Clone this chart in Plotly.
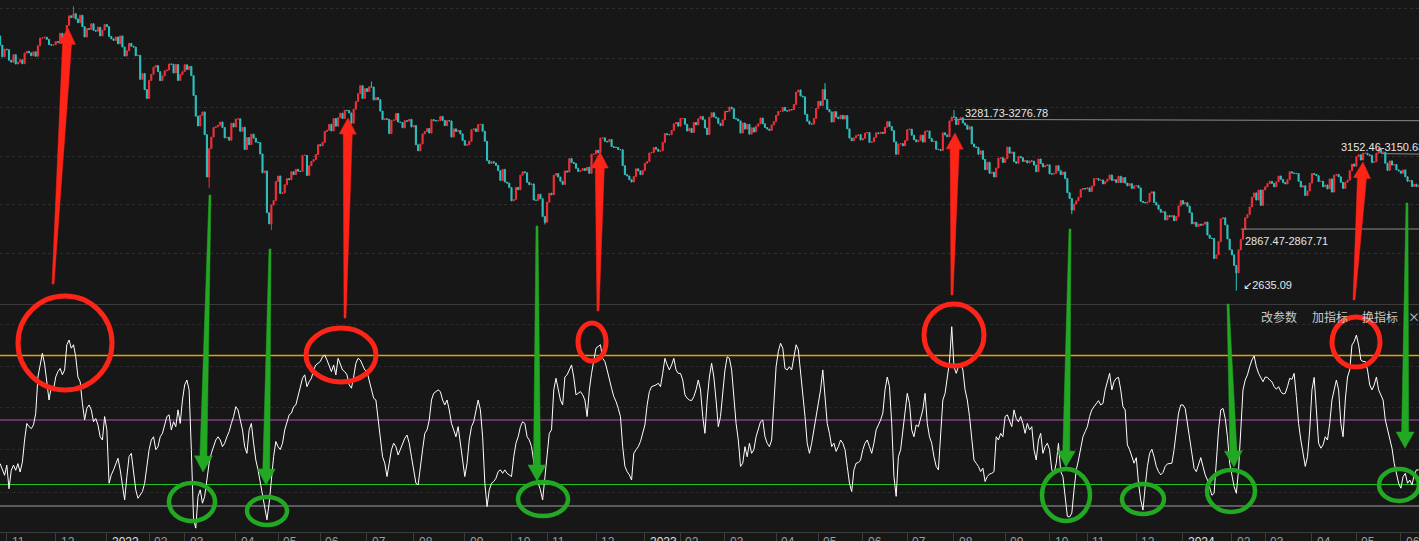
import pandas as pd
import plotly.graph_objects as go

# ---------------- data ----------------
start_date = "2021-10-27"
end_date = "2024-06-14"
exchange_holidays = [
    "2022-01-03", "2022-01-31", "2022-02-01", "2022-02-02", "2022-02-03", "2022-02-04",
    "2022-04-04", "2022-04-05", "2022-05-02", "2022-05-03", "2022-05-04", "2022-06-03",
    "2022-09-12", "2022-10-03", "2022-10-04", "2022-10-05", "2022-10-06", "2022-10-07",
    "2023-01-02", "2023-01-23", "2023-01-24", "2023-01-25", "2023-01-26", "2023-01-27",
    "2023-04-05", "2023-05-01", "2023-05-02", "2023-05-03", "2023-06-22", "2023-06-23",
    "2023-09-29", "2023-10-02", "2023-10-03", "2023-10-04", "2023-10-05", "2023-10-06",
    "2024-01-01", "2024-02-09", "2024-02-12", "2024-02-13", "2024-02-14", "2024-02-15",
    "2024-02-16", "2024-04-04", "2024-04-05", "2024-05-01", "2024-05-02", "2024-05-03",
    "2024-06-10",
]

prev_close = 3597
closes_2021 = [
    3562, 3518, 3547,
    3545, 3505, 3498, 3526, 3491, 3498, 3507, 3492, 3532, 3539, 3533, 3522, 3537, 3520, 3560, 3589, 3589, 3592, 3584, 3564, 3562, 3564,
    3576, 3573, 3607, 3589, 3595, 3637, 3673, 3666, 3681, 3661, 3647, 3675, 3632, 3593, 3625, 3622, 3643, 3618, 3615, 3630, 3597, 3619, 3640,
]
closes_2022 = [
    3632, 3595, 3586, 3580, 3593, 3567, 3597, 3555, 3521, 3541, 3569, 3558, 3555, 3522, 3524, 3433, 3455, 3394, 3361,
    3429, 3452, 3479, 3485, 3462, 3428, 3446, 3465, 3468, 3491, 3490, 3457, 3489, 3429, 3451, 3462,
    3488, 3470, 3482, 3447, 3372, 3294, 3257, 3297, 3310, 3224, 3064, 3171, 3215, 3251, 3254, 3260, 3272, 3251, 3212, 3214, 3203, 3267, 3253,
    3283, 3284, 3237, 3252, 3168, 3213, 3186, 3226, 3211, 3196, 3194, 3151, 3080, 3087, 2929, 2887, 2958, 2975, 3047,
    3068, 3002, 3004, 3035, 3058, 3054, 3084, 3073, 3093, 3086, 3085, 3146, 3146, 3070, 3107, 3123, 3130, 3149, 3186,
    3182, 3195, 3236, 3241, 3263, 3238, 3285, 3256, 3288, 3305, 3285, 3316, 3315, 3306, 3267, 3320, 3349, 3379, 3409, 3361, 3398,
    3387, 3405, 3404, 3355, 3364, 3356, 3313, 3281, 3284, 3282, 3228, 3278, 3279, 3304, 3272, 3270, 3250, 3277, 3275, 3282, 3253,
    3259, 3186, 3163, 3189, 3227, 3236, 3247, 3230, 3281, 3277, 3276, 3277, 3293, 3278, 3258, 3277, 3276, 3215, 3246, 3236, 3240, 3227, 3202,
    3184, 3186, 3199, 3243, 3246, 3236, 3262, 3263, 3237, 3199, 3126, 3115, 3122, 3117, 3108, 3088, 3051, 3093, 3045, 3041, 3024,
    2974, 2979, 3025, 3016, 3071, 3084, 3080, 3044, 3035, 3038, 2977, 2976, 2999, 2982, 2915, 2893,
    2969, 3003, 2997, 3071, 3077, 3064, 3048, 3036, 3087, 3083, 3134, 3119, 3115, 3097, 3085, 3089, 3096, 3089, 3101, 3078, 3150, 3151,
    3165, 3156, 3211, 3212, 3199, 3197, 3206, 3179, 3176, 3176, 3168, 3167, 3107, 3073, 3068, 3054, 3045, 3066, 3095, 3087, 3073, 3089,
]
closes_2023 = [
    3116, 3123, 3155, 3157, 3176, 3169, 3161, 3163, 3195, 3228, 3224, 3224, 3240, 3265, 3270, 3256,
    3285, 3285, 3263, 3238, 3248, 3232, 3270, 3261, 3284, 3293, 3280, 3249, 3224, 3290, 3307, 3291, 3287, 3267, 3258, 3280,
    3312, 3311, 3328, 3322, 3285, 3283, 3276, 3230, 3268, 3245, 3263, 3226, 3250, 3234, 3256, 3265, 3287, 3265, 3251, 3245, 3240, 3261, 3273,
    3297, 3312, 3312, 3327, 3315, 3313, 3319, 3318, 3338, 3385, 3393, 3370, 3367, 3301, 3275, 3264, 3264, 3285, 3323,
    3350, 3334, 3395, 3357, 3319, 3310, 3272, 3311, 3290, 3284, 3297, 3283, 3296, 3246, 3211, 3201, 3212, 3221, 3224, 3204,
    3210, 3230, 3232, 3195, 3197, 3213, 3231, 3228, 3233, 3229, 3252, 3273, 3255, 3240, 3197, 3150, 3189, 3190, 3182, 3202,
    3243, 3245, 3222, 3205, 3197, 3203, 3222, 3196, 3237, 3238, 3210, 3198, 3199, 3169, 3168, 3164, 3231, 3223, 3216, 3276, 3291,
    3290, 3262, 3281, 3288, 3268, 3260, 3244, 3254, 3189, 3178, 3176, 3150, 3163, 3131, 3092, 3120, 3078, 3082, 3064, 3098, 3135, 3137, 3119,
    3133, 3177, 3154, 3158, 3122, 3116, 3142, 3137, 3123, 3126, 3117, 3125, 3124, 3109, 3084, 3132, 3115, 3102, 3107, 3110,
    3076, 3075, 3078, 3107, 3088, 3073, 3083, 3058, 3005, 2983, 2939, 2962, 2974, 2988, 3017, 3021, 3019,
    3023, 3009, 3030, 3058, 3058, 3052, 3053, 3038, 3047, 3056, 3072, 3051, 3054, 3043, 3067, 3043, 3062, 3041, 3031, 3039, 3021, 3030,
    3032, 3023, 2972, 2968, 2966, 2970, 3003, 3008, 2968, 2958, 2942, 2931, 2933, 2902, 2918, 2914, 2918, 2899, 2915, 2955, 2975,
]
closes_2024 = [
    2962, 2967, 2954, 2929, 2887, 2893, 2877, 2886, 2882, 2886, 2894, 2845, 2833, 2832, 2756, 2770, 2820, 2906, 2910, 2883, 2830, 2789,
    2770, 2730, 2702, 2789, 2829, 2866, 2910, 2922, 2951, 2988, 3004, 2977, 3015, 2957, 3015,
    3027, 3039, 3048, 3040, 3027, 3046, 3068, 3055, 3043, 3038, 3054, 3084, 3079, 3078, 3077, 3048, 3026, 3031, 2994, 3011, 3041,
    3077, 3074, 3069, 3047, 3048, 3027, 3034, 3019, 3057, 3007, 3071, 3074, 3065, 3044, 3021, 3044, 3052, 3088, 3113, 3105,
    3141, 3148, 3128, 3154, 3154, 3148, 3146, 3119, 3122, 3154, 3171, 3157, 3158, 3116, 3089, 3125, 3109, 3111, 3091, 3087,
    3078, 3091, 3065, 3048, 3051, 3028, 3037, 3028, 3032,
]

notable_dates = ["2021-12-13", "2022-03-16", "2022-04-27", "2022-07-05", "2022-10-31",
                 "2023-05-09", "2023-08-01", "2023-10-23", "2024-02-05", "2024-05-20"]
notable_highs = [3708.94, None, None, 3424.84, None, 3418.95, 3317.0, None, None, 3174.27]
notable_lows = [None, 3023.30, 2863.65, None, 2885.09, None, None, 2923.51, 2635.09, None]

oscillator = [
    29.7, 26.6, 24.3, 29.0, 18.0, 26.6, 29.0, 26.6, 29.7, 25.8,
    30.4, 40.7, 48.4, 46.9, 46.0, 47.7, 53.0, 70.0, 76.4, 81.0,
    76.0, 68.6, 59.3, 65.5, 64.0, 70.0, 72.5, 74.0, 71.0, 73.3,
    85.0, 87.2, 83.4, 85.0, 79.4, 70.0, 67.8, 57.7, 50.0, 55.4,
    57.0, 54.7, 49.2, 50.7, 47.7, 42.2, 40.7, 51.6, 45.4, 20.6,
    24.5, 26.8, 29.9, 32.2, 26.8, 19.0, 12.8, 23.7, 33.0, 34.5,
    26.0, 17.5, 13.6, 15.0, 16.7, 20.6, 28.4, 36.2, 40.7, 42.2,
    36.2, 37.6, 42.2, 43.8, 47.7, 51.6, 52.4, 45.4, 49.2, 46.9,
    54.7, 48.4, 59.3, 66.3, 68.6, 64.0, 36.2, 3.6, -0.3, 14.5,
    17.5, 11.3, 14.5, 23.7, 29.9, 34.5, 37.6, 40.7, 42.2, 40.7,
    37.6, 39.2, 42.2, 44.6, 48.4, 51.6, 56.2, 54.7, 50.0, 45.4,
    37.6, 34.5, 45.4, 48.4, 39.2, 31.4, 26.8, 20.6, 14.5, 8.3,
    3.6, 11.3, 23.7, 33.0, 40.0, 37.6, 36.2, 39.2, 45.4, 49.2,
    52.4, 53.2, 56.2, 57.0, 60.9, 64.8, 69.4, 71.0, 65.5, 67.8,
    69.4, 73.3, 75.6, 76.4, 77.2, 79.4, 80.2, 77.9, 74.8, 72.5,
    75.6, 71.0, 78.7, 76.4, 73.3, 72.5, 71.0, 66.3, 64.8, 70.0,
    76.4, 78.7, 77.9, 75.6, 73.3, 72.5, 68.6, 64.0, 60.1, 59.3,
    50.0, 40.7, 32.9, 29.9, 23.7, 29.9, 36.2, 39.2, 37.6, 33.7,
    36.2, 39.2, 41.5, 43.0, 39.2, 32.9, 26.0, 20.6, 19.8, 26.8,
    36.2, 43.8, 45.4, 50.0, 59.3, 62.4, 63.2, 64.0, 63.2, 59.3,
    57.0, 59.3, 54.7, 48.4, 45.4, 42.2, 46.9, 40.0, 31.4, 23.7,
    29.9, 40.7, 46.9, 49.2, 54.7, 59.3,
    54.7, 42.2, 20.6, 9.7, 17.5, 20.6, 21.4, 22.9, 26.0, 26.8,
    25.2, 26.8, 25.2, 24.5, 23.7, 32.9, 39.2, 42.2, 46.9, 49.2,
    48.4, 42.2, 40.7, 37.6, 29.9, 23.7, 20.6, 17.5, 12.8, 23.7,
    36.2, 43.8, 45.4, 64.0, 69.4, 64.0, 59.3, 57.0, 70.0, 71.0,
    73.3, 75.6, 70.0, 61.7, 62.4, 63.2, 61.7, 59.3, 51.6, 64.0,
    71.7, 78.7, 83.4, 84.2, 85.0, 78.7, 77.2, 73.3, 68.6, 64.8,
    60.9, 58.6, 55.4, 51.6, 37.6, 28.4, 26.0, 24.5, 22.1, 34.5,
    36.2, 37.6, 40.0, 43.8, 47.7, 57.0, 63.2, 65.5, 65.8, 66.3,
    67.1, 65.5, 71.7, 78.7, 75.6, 73.3, 75.6, 78.7, 73.3, 71.7,
    71.7, 68.6, 61.7, 60.1, 59.3, 59.0, 60.9, 64.0, 68.6, 64.0,
    51.6, 43.8, 59.3, 70.0, 76.4, 70.0, 59.3, 46.9, 51.6, 62.4,
    73.3, 79.4, 78.7, 73.3, 59.3, 48.4, 40.7, 28.4, 29.9, 37.6,
    32.9, 39.2, 34.5, 36.2, 42.2, 45.4, 49.2, 50.0, 42.2, 39.2,
    37.6, 40.7, 59.3, 74.8, 81.8, 85.7, 83.4, 74.0, 73.3, 74.8,
    73.3, 79.4, 85.0, 82.6, 73.3, 64.0, 51.6, 39.2, 34.5, 39.2,
    45.4, 51.6, 56.2, 64.0, 73.3, 59.3, 48.4, 43.8, 37.6, 39.2,
    35.4, 37.6, 40.7, 39.2, 36.2, 28.4, 20.6, 16.7, 26.8, 29.9,
    30.2, 31.4, 36.2, 39.2, 40.7, 37.6, 34.5, 39.2, 45.4, 47.7,
    50.0, 53.2, 64.0, 70.0, 65.5, 48.4, 23.7, 14.5, 32.9, 36.2,
    45.4, 56.2, 62.4, 57.7, 45.4, 42.2, 47.7, 46.9, 51.6, 54.7,
    62.4, 48.4, 42.2, 39.2, 32.9, 28.4, 26.8, 45.4, 59.3, 62.4,
    70.0, 77.2, 93.4, 74.8, 71.7, 74.8,
    76.4, 73.3, 64.0, 59.3, 51.6, 40.7, 31.4, 29.9, 28.4, 26.0,
    27.6, 21.4, 23.7, 24.9, 25.2, 26.0, 42.2, 40.7, 43.8, 42.2,
    51.6, 52.4, 49.2, 46.9, 54.7, 50.7, 49.2, 51.6, 48.4, 43.8,
    48.4, 45.4, 46.9, 36.2, 31.4, 40.7, 43.8, 34.5, 37.6, 39.2,
    36.2, 26.8, 25.2, 29.9, 39.2, 26.0, 23.7, 14.5, 5.2, 4.9,
    6.7, 17.5, 26.8, 31.4, 37.6, 42.2, 44.6, 46.9, 51.6, 54.7,
    56.2, 57.7, 59.0, 57.0, 57.7, 64.0, 68.6, 71.7, 64.0, 67.8,
    69.4, 69.8, 64.0, 56.2, 54.7, 38.4, 36.2, 32.9, 29.9, 32.5,
    20.6, 12.8, 8.1, 19.0, 28.4, 34.5, 36.4, 32.9, 28.4, 26.0,
    24.5, 25.6, 28.4, 29.6, 29.9, 29.9, 36.2, 45.4, 53.2, 57.0,
    57.0, 55.4, 48.4, 40.7, 32.9, 27.5, 26.0, 29.9, 32.5, 28.4,
    24.5, 22.1, 19.0, 15.0, 15.9, 29.9, 45.4, 54.7, 55.4, 50.7,
    42.2, 29.9, 23.7, 19.0, 15.9, 26.8, 45.4, 64.0, 68.6, 71.0,
    74.8, 77.9, 79.8, 74.8, 71.7, 69.4, 67.8, 70.0, 69.8, 68.6,
    67.8, 65.5, 64.3, 65.5, 63.2, 62.1, 62.4, 65.5, 69.4, 68.9,
    71.7, 60.9, 48.4, 40.7, 34.5, 28.4, 32.9, 45.4, 64.0, 69.8,
    54.7, 39.2, 36.9, 38.4, 42.2, 40.7, 48.4, 59.3, 64.0, 68.6,
    64.0, 48.4, 42.2, 59.3, 70.0, 73.3, 84.9, 86.5, 89.5, 84.9,
    77.9, 77.2, 77.2, 73.3, 66.3, 64.0, 66.3, 70.0, 64.0, 61.7,
    59.3, 50.0, 45.4, 42.2, 36.9, 29.9, 24.5, 20.6, 18.3, 23.7,
    25.2, 20.6, 22.1, 19.8, 24.5, 26.8, 26.8,
]

osc_levels = [80, 50, 20, 10]
osc_level_colors = ["rgb(232,160,0)", "rgb(180,80,180)", "rgb(34,196,34)", "rgb(160,160,160)"]
osc_level_widths = [1.6, 1, 1, 1]
price_grid = [3702.4, 3513.6, 3328.5, 3143.4, 2958.4, 2773.3]
osc_grid = [94.2, 75.1, 56.0, 36.5, 16.5]

# drawn segments (start date, start price, end price) and their labels
seg_dates = ["2023-08-01", "2024-05-21", "2024-02-07"]
seg_p0 = [3281.73, 3152.46, 2867.47]
seg_p1 = [3276.78, 3150.63, 2867.71]

# ---------------- build ----------------
hol = set(exchange_holidays)
dates = [d for d in pd.bdate_range(start_date, end_date) if d.strftime("%Y-%m-%d") not in hol]
closes = closes_2021 + closes_2022 + closes_2023 + closes_2024
n = min(len(dates), len(closes), len(oscillator))
dates = dates[:n]
closes = closes[:n]
osc = oscillator[:n]
xs = list(range(n))
opens = [prev_close] + closes[:-1]
highs = [max(o, c) for o, c in zip(opens, closes)]
lows = [min(o, c) for o, c in zip(opens, closes)]
date_idx = {d.strftime("%Y-%m-%d"): i for i, d in enumerate(dates)}
for d, h, l in zip(notable_dates, notable_highs, notable_lows):
    if d in date_idx:
        i = date_idx[d]
        if h is not None:
            highs[i] = max(highs[i], h)
        if l is not None:
            lows[i] = min(lows[i], l)

tick_idx, tick_txt = [], []
for i in range(1, n):
    if dates[i].month != dates[i - 1].month:
        tick_idx.append(i)
        tick_txt.append(str(dates[i].year) if dates[i].month == 1 else f"{dates[i].month:02d}")

# ---------------- layout geometry ----------------
FW, FH, PH = 1419, 541, 532
BAR_PX, BAR0_PX = 2.2234, 0.13
x_range = [(0 - BAR0_PX) / BAR_PX, (FW - BAR0_PX) / BAR_PX]
price_range = [2584.4, 3732.7]
osc_range = [-2.09, 103.49]
dom_price = [(PH - 304) / PH, 1.0]
dom_osc = [0.0, (PH - 305) / PH]

BG = "#171717"
RED = "#f2303a"
CYAN = "#2fc1c1"
ARROW_RED = "#ff2418"
ARROW_GREEN = "#22a822"


def px(x):
    return x / FW


def py(y):
    return 1 - y / PH


fig = go.Figure()
fig.add_trace(go.Candlestick(
    x=xs, open=opens, high=highs, low=lows, close=closes,
    increasing=dict(line=dict(color=RED, width=1), fillcolor=RED),
    decreasing=dict(line=dict(color=CYAN, width=1), fillcolor=CYAN),
    whiskerwidth=0, xaxis="x", yaxis="y", showlegend=False, hoverinfo="skip",
))
# oscillator reference levels as line traces
for lv, col, lw in zip(osc_levels, osc_level_colors, osc_level_widths):
    fig.add_trace(go.Scatter(
        x=[x_range[0], x_range[1]], y=[lv, lv], mode="lines",
        line=dict(color=col, width=lw), xaxis="x", yaxis="y2",
        showlegend=False, hoverinfo="skip",
    ))
fig.add_trace(go.Scatter(
    x=xs, y=osc, mode="lines", line=dict(color="#ffffff", width=1),
    xaxis="x", yaxis="y2", showlegend=False, hoverinfo="skip",
))

shapes = []
# panel separator
shapes.append(dict(type="line", xref="paper", yref="paper", x0=0, x1=1, y0=py(304.5), y1=py(304.5),
                   line=dict(color="#3c3c3c", width=1), layer="below"))
# drawn price segments
for d, p0, p1 in zip(seg_dates, seg_p0, seg_p1):
    i0 = date_idx.get(d, 0)
    shapes.append(dict(type="line", xref="x", yref="y", x0=i0, x1=x_range[1], y0=p0, y1=p1,
                       line=dict(color="#8a8a8a", width=1)))


def arrow_path(tail, tip, w_tail, w_shaft, w_head, head_len):
    tx, ty = tail
    hx, hy = tip
    dx, dy = hx - tx, hy - ty
    L = (dx * dx + dy * dy) ** 0.5
    ux, uy = dx / L, dy / L
    nx, ny = -uy, ux
    bx, by = hx - ux * head_len, hy - uy * head_len
    pts = [
        (tx + nx * w_tail, ty + ny * w_tail),
        (bx + nx * w_shaft, by + ny * w_shaft),
        (bx + nx * w_head, by + ny * w_head),
        (hx, hy),
        (bx - nx * w_head, by - ny * w_head),
        (bx - nx * w_shaft, by - ny * w_shaft),
        (tx - nx * w_tail, ty - ny * w_tail),
    ]
    return "M " + " L ".join(f"{px(a):.6f},{py(b):.6f}" for a, b in pts) + " Z"


red_arrows = [((53, 284), (68, 28)), ((345, 318), (348, 118)), ((598, 311), (600, 152)),
              ((952, 295), (955, 133)), ((1354, 300), (1363, 162))]
green_arrows = [((210, 195), (203, 472)), ((270, 249), (266, 485)), ((537, 226), (537, 481)),
                ((1070, 229), (1066, 467)), ((1228, 304), (1234, 467)), ((1407, 203), (1405, 448))]
for t, h in red_arrows:
    shapes.append(dict(type="path", xref="paper", yref="paper",
                       path=arrow_path(t, h, 1.0, 4.5, 8.5, 16),
                       fillcolor=ARROW_RED, line=dict(color=ARROW_RED, width=0.5)))
for t, h in green_arrows:
    shapes.append(dict(type="path", xref="paper", yref="paper",
                       path=arrow_path(t, h, 1.0, 3.5, 9, 16),
                       fillcolor=ARROW_GREEN, line=dict(color=ARROW_GREEN, width=0.5)))

red_circles = [(65, 343, 47, 47), (341, 355, 35, 27), (592, 342, 14, 19), (954, 335, 30, 31), (1356, 342, 24, 25)]
green_circles = [(192, 502, 23, 19), (267, 511, 20, 14), (543, 499, 25, 17), (1066, 495, 24, 26),
                 (1143, 499, 21, 15), (1231, 491, 24, 21), (1399, 485, 20, 16)]
for cx, cy, rx, ry in red_circles:
    shapes.append(dict(type="circle", xref="paper", yref="paper",
                       x0=px(cx - rx), x1=px(cx + rx), y0=py(cy + ry), y1=py(cy - ry),
                       line=dict(color=ARROW_RED, width=5)))
for cx, cy, rx, ry in green_circles:
    shapes.append(dict(type="circle", xref="paper", yref="paper",
                       x0=px(cx - rx), x1=px(cx + rx), y0=py(cy + ry), y1=py(cy - ry),
                       line=dict(color=ARROW_GREEN, width=4.5)))

annotations = []
for i, t in zip(tick_idx, tick_txt):
    annotations.append(dict(x=i, xref="x", y=0, yref="paper", text=t, showarrow=False,
                            xanchor="left", yanchor="top", xshift=3, yshift=-1,
                            font=dict(family="Liberation Sans, Arial", size=12,
                                      color="#e0e0e0" if len(t) == 4 else "#9c9c9c")))

label_font = dict(family="Liberation Sans, Arial, DejaVu Sans", size=11, color="#e6e6e6")
seg_label_pos = [(963, 113), (1339, 147), (1243, 241)]
for (lx, ly), p0, p1 in zip(seg_label_pos, seg_p0, seg_p1):
    annotations.append(dict(x=px(lx), y=py(ly), xref="paper", yref="paper",
                            text=f"{p0:.2f}-{p1:.2f}", showarrow=False,
                            xanchor="left", yanchor="middle", font=label_font))
low_val = min(lows)
annotations.append(dict(x=px(1241), y=py(285), xref="paper", yref="paper",
                        text=f"\u2199{low_val:.2f}", showarrow=False,
                        xanchor="left", yanchor="middle",
                        font=dict(family="Liberation Sans, DejaVu Sans", size=11, color="#e6e6e6")))

menu_items = [("改参数", 1259), ("加指标", 1310), ("换指标", 1360), ("×", 1406)]
for txt, mx in menu_items:
    annotations.append(dict(x=px(mx), y=py(316), xref="paper", yref="paper", text=txt,
                            showarrow=False, xanchor="left", yanchor="middle",
                            font=dict(family="Noto Sans CJK SC", size=12, color="#c8c8c8")))

fig.update_layout(
    width=FW, height=FH,
    margin=dict(l=0, r=0, t=0, b=FH - PH, pad=0),
    paper_bgcolor=BG, plot_bgcolor=BG,
    showlegend=False,
    xaxis=dict(domain=[0, 1], range=x_range, anchor="y2", showgrid=False, zeroline=False,
               showticklabels=False, ticks="outside", ticklen=9, tickcolor="#3c3c3c",
               tickvals=tick_idx, showline=True, linecolor="#3c3c3c", linewidth=1,
               rangeslider=dict(visible=False), fixedrange=True, automargin=False),
    yaxis=dict(domain=dom_price, range=price_range, anchor="x", tickvals=price_grid,
               showticklabels=False, showgrid=True, gridcolor="#2f2f2f", griddash="dot",
               zeroline=False, fixedrange=True, automargin=False),
    yaxis2=dict(domain=dom_osc, range=osc_range, anchor="x", tickvals=osc_grid,
                showticklabels=False, showgrid=True, gridcolor="#2b2b2b", griddash="dot",
                zeroline=False, fixedrange=True, automargin=False),
    shapes=shapes,
    annotations=annotations,
)

page_style = ("document.body.style.margin='0';document.body.style.padding='0';"
              "document.body.style.background='#171717';document.body.style.overflow='hidden';")
fig.write_html("out.html", config={"displayModeBar": False}, post_script=page_style)
